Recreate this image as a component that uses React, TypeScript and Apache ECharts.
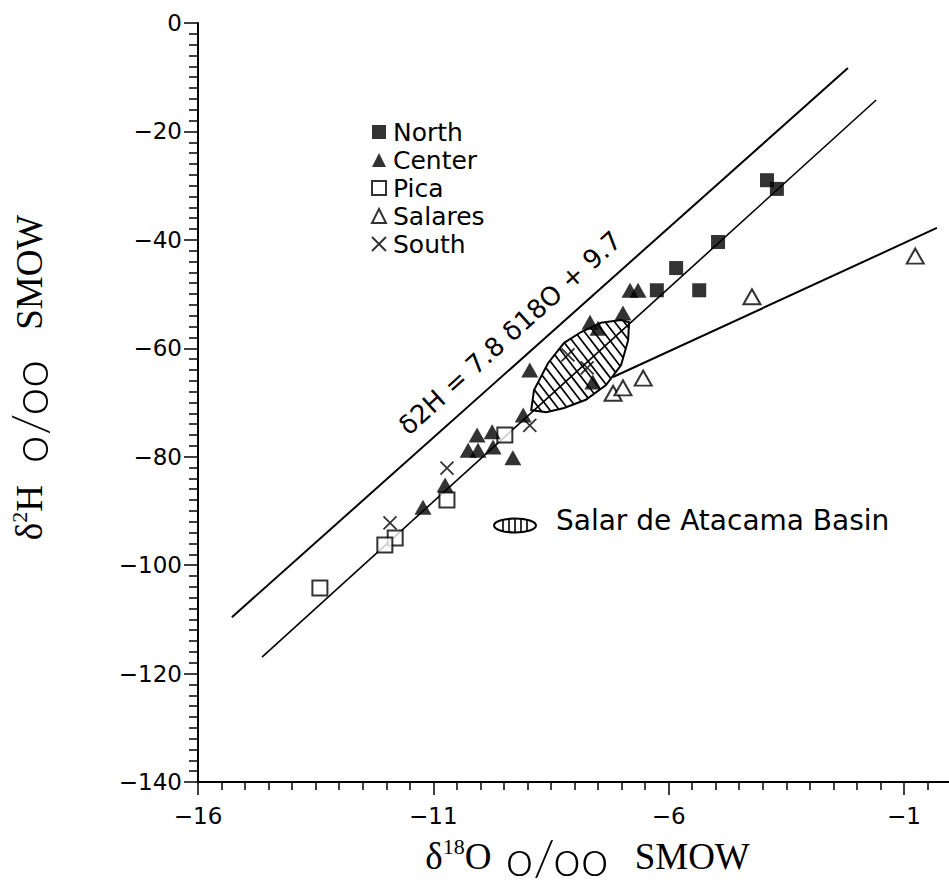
import React, { useEffect, useRef } from 'react';
import * as echarts from 'echarts';

// ---- data (delta 18O, delta 2H, per mil SMOW) ----
const northX = [-3.91, -3.7, -4.95, -5.84, -6.25, -5.35];
const northY = [-29.0, -30.6, -40.4, -45.2, -49.3, -49.3];

const centerX = [-6.82, -6.65, -6.97, -7.67, -7.5, -8.95, -7.61, -9.09, -10.07, -9.75, -10.26, -10.05, -9.73, -9.31, -10.75, -11.22];
const centerY = [-49.3, -49.3, -53.5, -55.2, -56.3, -64.0, -66.2, -72.3, -76.0, -75.4, -78.8, -78.8, -78.2, -80.2, -85.2, -89.3];

const picaX = [-9.48, -10.71, -11.81, -12.03, -13.41];
const picaY = [-76.0, -88.0, -95.0, -96.3, -104.2];

const salaresX = [-7.18, -6.97, -6.54, -4.23, -0.76];
const salaresY = [-68.3, -67.3, -65.5, -50.5, -43.0];

const southX = [-10.71, -11.92, -8.95, -8.14, -7.73];
const southY = [-82.1, -92.2, -74.2, -61.2, -63.6];

// reference lines (end points)
const gmwlX = [-15.28, -2.19];
const gmwlY = [-109.6, -8.3];
const localX = [-14.64, -1.59];
const localY = [-116.95, -14.2];
const evapX = [-7.18, -0.3];
const evapY = [-65.3, -37.8];

// Salar de Atacama Basin field outline
const lensX = [-8.92, -8.86, -8.56, -8.22, -7.86, -7.44, -7.01, -6.84, -6.86, -7.01, -7.33, -7.76, -8.22, -8.6];
const lensY = [-71.4, -67.7, -62.7, -59.0, -57.0, -55.3, -54.8, -55.2, -58.5, -63.1, -66.8, -69.5, -71.0, -71.8];

// axes
const xMin = -16;
const xMax = 0;
const xStep = 5;
const yMin = -140;
const yMax = 0;
const yStep = 20;

const zip = (xs: number[], ys: number[]) => xs.map((x, i) => [x, ys[i]]);

const fmt = (v: number) => (v < 0 ? '\u2212' + Math.abs(v) : String(v));

function hatchSegments(poly: number[][], spacing: number, dir: [number, number]) {
  const len = Math.hypot(dir[0], dir[1]);
  const d = [dir[0] / len, dir[1] / len];
  const n = [-d[1], d[0]];
  const proj = poly.map((p) => p[0] * n[0] + p[1] * n[1]);
  const cmin = Math.min(...proj);
  const cmax = Math.max(...proj);
  const segs: number[][][] = [];
  for (let c = cmin + spacing / 2; c < cmax; c += spacing) {
    const hits: number[][] = [];
    for (let i = 0; i < poly.length; i++) {
      const j = (i + 1) % poly.length;
      const fa = proj[i] - c;
      const fb = proj[j] - c;
      if ((fa < 0 && fb >= 0) || (fa >= 0 && fb < 0)) {
        const t = fa / (fa - fb);
        hits.push([poly[i][0] + (poly[j][0] - poly[i][0]) * t, poly[i][1] + (poly[j][1] - poly[i][1]) * t]);
      }
    }
    if (hits.length >= 2) {
      hits.sort((p, q) => p[0] * d[0] + p[1] * d[1] - (q[0] * d[0] + q[1] * d[1]));
      segs.push([hits[0], hits[hits.length - 1]]);
    }
  }
  return segs;
}

const SANS = '"DejaVu Sans", sans-serif';
const SERIF = '"Liberation Serif", "DejaVu Serif", serif';

const makeRich = (oPad: number[]) => ({
  d: { fontFamily: SERIF, fontSize: 37, color: '#000', lineHeight: 42 },
  s: { fontFamily: SERIF, fontSize: 22, color: '#000', verticalAlign: 'top', lineHeight: 22 },
  o: { fontFamily: 'Lato, "Liberation Sans", sans-serif', fontWeight: 300, fontSize: 50, color: '#000', lineHeight: 42, padding: oPad },
});

export default function App() {
  const ref = useRef<HTMLDivElement>(null);

  useEffect(() => {
    if (!ref.current) return;
    const chart = echarts.init(ref.current, null, { renderer: 'svg' });

    const lineSeries = (xs: number[], ys: number[], w: number) => ({
      type: 'line',
      data: zip(xs, ys),
      showSymbol: false,
      symbol: 'none',
      silent: true,
      lineStyle: { color: '#000', width: w },
      z: 1,
    });

    const option: any = {
      animation: false,
      backgroundColor: '#fff',
      grid: { left: 198, top: 23, width: 753, height: 759, containLabel: false, outerBoundsMode: 'none' },
      xAxis: {
        type: 'value',
        min: xMin,
        max: xMax,
        interval: xStep,
        axisLine: { show: true, onZero: false, lineStyle: { color: '#000', width: 2 } },
        axisTick: { show: true, length: 13, lineStyle: { color: '#000', width: 1.5 } },
        minorTick: { show: true, splitNumber: 10, length: 8, lineStyle: { color: '#000', width: 1.5 } },
        axisLabel: {
          show: true,
          formatter: fmt,
          showMaxLabel: false,
          margin: 22,
          color: '#000',
          fontFamily: SANS,
          fontSize: 23,
        },
        splitLine: { show: false },
        name: '{d|δ}{s|18}{d|O}{o|o/oo}{d|SMOW}',
        nameLocation: 'middle',
        nameGap: 42,
        nameTextStyle: { padding: [0, 0, 0, 26], rich: makeRich([0, 26, 0, 14]) },
      },
      yAxis: {
        type: 'value',
        min: yMin,
        max: yMax,
        interval: yStep,
        axisLine: { show: true, onZero: false, lineStyle: { color: '#000', width: 2 } },
        axisTick: { show: true, length: 14, lineStyle: { color: '#000', width: 1.5 } },
        minorTick: { show: true, splitNumber: 10, length: 9, lineStyle: { color: '#000', width: 1.5 } },
        axisLabel: { formatter: fmt, margin: 16, color: '#000', fontFamily: SANS, fontSize: 23 },
        splitLine: { show: false },
        name: '{d|δ}{s|2}{d|H}{o|o/oo}{d|SMOW}',
        nameLocation: 'middle',
        nameGap: 148,
        nameTextStyle: { padding: [0, 0, 0, 50], rich: makeRich([0, 30, 0, 22]) },
      },
      legend: {
        show: true,
        orient: 'vertical',
        left: 366,
        top: 113,
        itemWidth: 14,
        itemHeight: 14,
        itemGap: 0,
        selectedMode: false,
        textStyle: { color: '#000', fontFamily: SANS, fontSize: 25, lineHeight: 28, padding: [0, 0, 0, 2] },
        data: ['North', 'Center', 'Pica', 'Salares', 'South'],
      },
      graphic: [
        {
          type: 'text',
          x: 510,
          y: 333,
          rotation: 0.733,
          silent: true,
          style: {
            text: 'δ2H = 7.8 δ18O + 9.7',
            fontFamily: SANS,
            fontSize: 26,
            fill: '#000',
            align: 'center',
            verticalAlign: 'middle',
          },
        },
        {
          type: 'group',
          left: 493,
          top: 516,
          silent: true,
          children: [
            { type: 'ellipse', shape: { cx: 21, cy: 7, rx: 21, ry: 7 }, style: { fill: '#fff', stroke: '#000', lineWidth: 2 } },
            ...[-12, -6, 0, 6, 12].map((dx) => {
              const h = 7 * Math.sqrt(1 - (dx / 21) * (dx / 21));
              return { type: 'line', shape: { x1: 21 + dx, y1: 7 - h, x2: 21 + dx, y2: 7 + h }, style: { stroke: '#000', lineWidth: 1.6 } };
            }),
          ],
        },
        {
          type: 'text',
          left: 556,
          top: 506,
          silent: true,
          style: { text: 'Salar de Atacama Basin', fontFamily: SANS, fontSize: 28, fill: '#000' },
        },
      ],
      series: [
        lineSeries(gmwlX, gmwlY, 2),
        lineSeries(localX, localY, 1.6),
        lineSeries(evapX, evapY, 2),
        {
          type: 'custom',
          silent: true,
          z: 2,
          data: [[lensX[0], lensY[0]]],
          renderItem: (params: any, api: any) => {
            if (params.dataIndex !== 0) return null;
            const poly = lensX.map((x, i) => api.coord([x, lensY[i]]));
            const segs = hatchSegments(poly, 7.5, [1, 1.3]);
            return {
              type: 'group',
              children: [
                ...segs.map((s) => ({
                  type: 'line',
                  shape: { x1: s[0][0], y1: s[0][1], x2: s[1][0], y2: s[1][1] },
                  style: { stroke: '#000', lineWidth: 1.7 },
                })),
                { type: 'polygon', shape: { points: poly }, style: { fill: 'none', stroke: '#000', lineWidth: 2 } },
              ],
            };
          },
        },
        {
          name: 'North',
          type: 'scatter',
          data: zip(northX, northY),
          symbol: 'rect',
          symbolSize: 14,
          itemStyle: { color: '#000' },
          z: 5,
        },
        {
          name: 'Center',
          type: 'scatter',
          data: zip(centerX, centerY),
          symbol: 'triangle',
          symbolSize: [17, 15],
          itemStyle: { color: '#000' },
          z: 5,
        },
        {
          name: 'Pica',
          type: 'scatter',
          data: zip(picaX, picaY),
          symbol: 'rect',
          symbolSize: 15,
          itemStyle: { color: '#fff', borderColor: '#000', borderWidth: 2 },
          z: 4,
        },
        {
          name: 'Salares',
          type: 'scatter',
          data: zip(salaresX, salaresY),
          symbol: 'triangle',
          symbolSize: [17, 15],
          itemStyle: { color: '#fff', borderColor: '#000', borderWidth: 2 },
          z: 4,
        },
        {
          name: 'South',
          type: 'scatter',
          data: zip(southX, southY),
          symbol: 'path://M0,0L10,10M10,0L0,10',
          symbolSize: 13,
          itemStyle: { color: 'transparent', borderColor: '#000', borderWidth: 1.8 },
          z: 6,
        },
      ],
    };

    chart.setOption(option);
    return () => chart.dispose();
  }, []);

  return (
    <div
      ref={ref}
      style={{ position: 'absolute', left: 0, top: 0, width: 949, height: 890, background: '#fff' }}
    />
  );
}
